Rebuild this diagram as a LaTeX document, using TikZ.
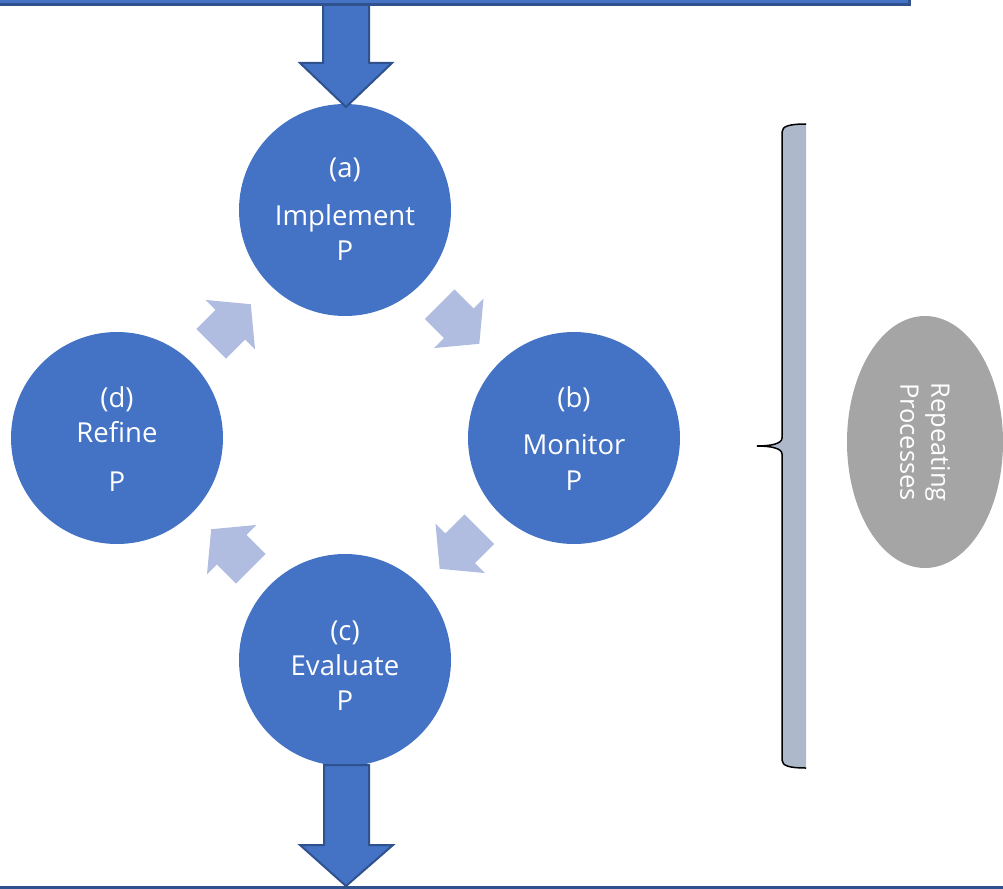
\documentclass[tikz,border=0pt]{standalone}
\usepackage{fontspec}
\setmainfont{Open Sans}
\usetikzlibrary{calc,shapes.geometric}
\definecolor{cblue}{HTML}{4472C4}
\definecolor{cdark}{HTML}{2F528F}
\definecolor{clight}{HTML}{B1BDE0}
\definecolor{cbrace}{HTML}{ADB9CA}
\definecolor{cgray}{HTML}{A5A5A5}
\begin{document}
\begin{tikzpicture}[x=1pt,y=-1pt,
  stage/.style={circle,fill=cblue,minimum size=212pt,inner sep=0pt},
  stagetext/.style={text=white,align=center,inner sep=0pt,font=\fontsize{27.5}{35}\selectfont},
  bigarrow/.style={fill=cblue,draw=cdark,line width=2pt,line join=miter},
  smallarrow/.style={fill=clight},
  bar/.style={fill=cblue,draw=cdark,line width=2.5pt,inner sep=0pt}]
\useasboundingbox (0,0) rectangle (1003,888);
\clip (0,0) rectangle (1003,888);

% stages
\node[stage] (sa) at (345,210) {};
\node[stage] (sb) at (574,438) {};
\node[stage] (sc) at (345,660) {};
\node[stage] (sd) at (117,438) {};

\node[stagetext] (ta) at (345,209) {(a)\\[13pt]Implement\\P};
\node[stagetext] (tb) at (574,439) {(b)\\[12pt]Monitor\\[1pt]P};
\node[stagetext] (tc) at (345,666) {(c)\\Evaluate\\P};
\node[stagetext] (td) at (117,439) {(d)\\Refine\\[14pt]P};

% small cycle arrows
\fill[smallarrow, shift={($(sa)!0.5!(sb)$)}, rotate=-45]
  (-28,-21) -- (-1,-21) -- (-1,-35) -- (28,0) -- (-1,35) -- (-1,21) -- (-28,21) -- cycle;
\fill[smallarrow, shift={($(sb)!0.5!(sc)$)}, rotate=-135]
  (-28,-21) -- (-1,-21) -- (-1,-35) -- (28,0) -- (-1,35) -- (-1,21) -- (-28,21) -- cycle;
\fill[smallarrow, shift={($(sc)!0.5!(sd)$)}, rotate=135]
  (-28,-21) -- (-1,-21) -- (-1,-35) -- (28,0) -- (-1,35) -- (-1,21) -- (-28,21) -- cycle;
\fill[smallarrow, shift={($(sd)!0.5!(sa)$)}, rotate=45]
  (-28,-21) -- (-1,-21) -- (-1,-35) -- (28,0) -- (-1,35) -- (-1,21) -- (-28,21) -- cycle;

% big arrows
\draw[bigarrow] (323,-5) -- (323,63) -- (300,63) -- (346,107) -- (392,63) -- (369,63) -- (369,-5) -- cycle;
\draw[bigarrow] (324,765) -- (369,765) -- (369,845) -- (393,845) -- (346,886) -- (300,845) -- (324,845) -- cycle;

% bars
\node[bar,anchor=south west,minimum width=918pt,minimum height=40pt] (topbox) at (-10,6) {};
\node[bar,anchor=north west,minimum width=1030pt,minimum height=40pt] (botbox) at (-10,886) {};

% brace
\fill[cbrace] (806,124) .. controls (790,124) and (782,126) .. (782,132) -- (782,438)
  .. controls (782,444) and (770,446) .. (757,446)
  .. controls (770,446) and (782,448) .. (782,454) -- (782,760)
  .. controls (782,766) and (790,768) .. (806,768) -- cycle;
\draw[black,line width=1.5pt] (806,124) .. controls (790,124) and (782,126) .. (782,132) -- (782,438)
  .. controls (782,444) and (770,446) .. (757,446)
  .. controls (770,446) and (782,448) .. (782,454) -- (782,760)
  .. controls (782,766) and (790,768) .. (806,768);

% ellipse
\node[ellipse,fill=cgray,rotate=-90,minimum width=252pt,minimum height=156pt,inner sep=0pt,
  text=white,align=center,font=\fontsize{25.5}{31}\selectfont] (rep) at (925,442) {Repeating\\Processes};
\end{tikzpicture}
\end{document}
